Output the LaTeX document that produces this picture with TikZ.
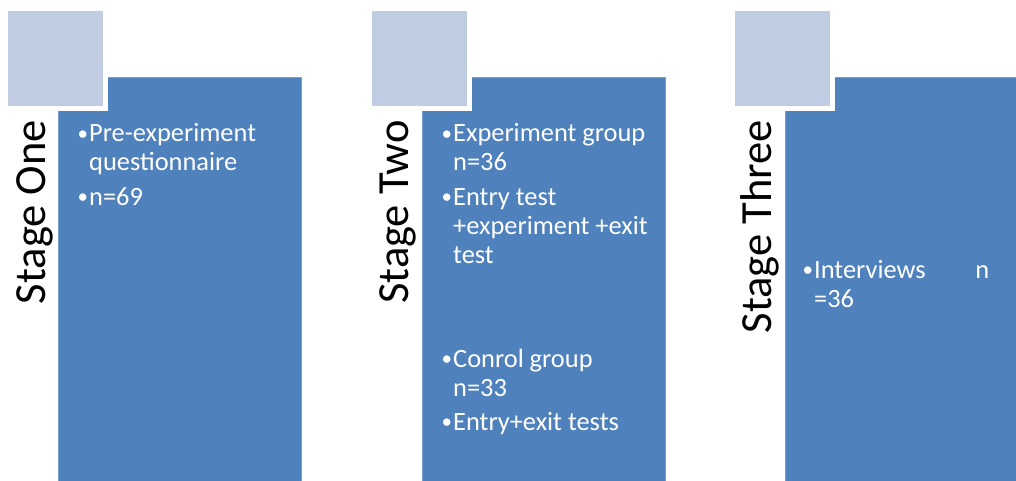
\documentclass[tikz,border=0pt]{standalone}
\usepackage{fontspec}
\setmainfont{Carlito}

\definecolor{stageblue}{RGB}{79,129,189}
\definecolor{stageedge}{RGB}{122,160,207}
\definecolor{tabgrey}{RGB}{192,204,225}

% bullet line, continuation line and gap between bullets
\newcommand{\bdot}{\raisebox{1.8pt}{\fontsize{21}{21}\selectfont •}}
\newcommand{\bul}[1]{\hbox{\makebox[11pt][l]{\kern-0.5pt\bdot}#1}}
\newcommand{\cnt}[1]{\hbox{\hspace*{11pt}#1}}
\newcommand{\bgap}{\vskip5.5pt}

\tikzset{
  bluebox/.style={fill=stageblue, draw=stageedge, line width=0.8pt,
    inner sep=0pt, anchor=north west, minimum width=243pt, minimum height=406pt},
  tabsquare/.style={fill=tabgrey, inner sep=0pt, anchor=north west,
    minimum size=95pt, preaction={draw=white, line width=10pt}},
  stagelabel/.style={rotate=90, anchor=base east, inner sep=0pt,
    font=\fontsize{44.5}{50}\selectfont, text=black},
  bodytext/.style={anchor=base west, inner sep=0pt, text=white,
    font=\fontsize{26.4}{29}\selectfont}
}

\begin{document}
\begin{tikzpicture}[x=1pt, y=-1pt]
\useasboundingbox (0,0) rectangle (1016,481);
\clip (0,0) rectangle (1016,481);

% stage one
\node[bluebox] (b1) at (58,77) {};
\node[tabsquare] (s1) at (8,11) {};
\node[stagelabel] (l1) at (45,120) {Stage One};
\node[bodytext] (t1) at (78,142) {\vtop{%
  \bul{Pre-experiment}\cnt{questionnaire}\bgap
  \bul{n=69}}};

% stage two
\node[bluebox] (b2) at (422,77) {};
\node[tabsquare] (s2) at (372,11) {};
\node[stagelabel] (l2) at (408,120) {Stage Two};
\node[bodytext] (t2) at (442,142) {\vtop{%
  \bul{Experiment group}\cnt{n=36}\bgap
  \bul{Entry test}\cnt{+experiment +exit}\cnt{test}}};
\node[bodytext] (t3) at (442,367) {\vtop{%
  \bul{Conrol group}\cnt{n=33}\bgap
  \bul{Entry+exit tests}}};

% stage three
\node[bluebox] (b3) at (785,77) {};
\node[tabsquare] (s3) at (735,11) {};
\node[stagelabel] (l3) at (771,120) {Stage Three};
\node[bodytext] (t4) at (803,278) {\vtop{%
  \bul{\makebox[175pt][l]{Interviews\hfill n}}\cnt{=36}}};
\end{tikzpicture}
\end{document}
